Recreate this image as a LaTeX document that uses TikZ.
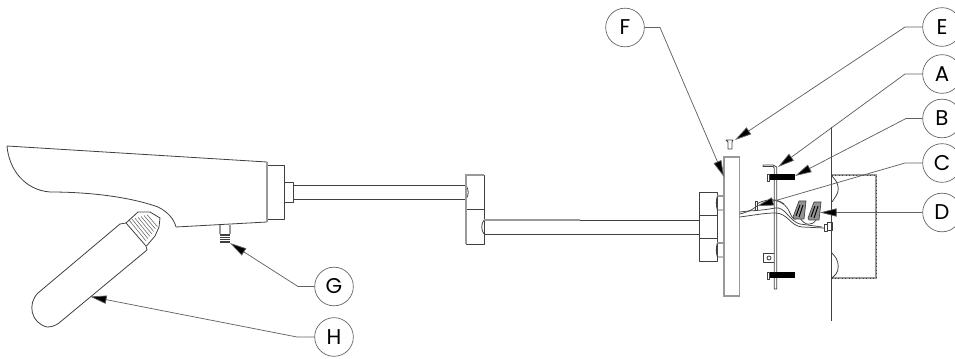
\documentclass[tikz,border=0pt]{standalone}
\usepackage{fontspec}
\setmainfont{Poppins}
\usetikzlibrary{arrows.meta}
\definecolor{ink}{gray}{0.25}
\definecolor{lead}{gray}{0.38}
\definecolor{soft}{gray}{0.6}
\tikzset{
  part/.style={draw=ink,line width=0.6pt,line join=round},
  softpart/.style={draw=soft,line width=0.85pt},
  callout/.style={circle,draw=lead,line width=0.5pt,minimum size=29pt,inner sep=0pt,font=\fontsize{16}{16}\selectfont,text=black},
  leader/.style={draw=lead,line width=0.55pt,-{Triangle[length=12.5pt,width=6.2pt,fill=black]}},
  wire/.style={draw=ink,line width=0.55pt},
  nutfill/.style={draw=ink,fill=gray!85,line width=0.5pt},
}
\begin{document}
\begin{tikzpicture}[x=0.75pt,y=-0.75pt]
\useasboundingbox (0,0) rectangle (955,359);
% Fixture body
\draw[part] (7,146) -- (267,162) -- (267,222) -- (176,227)
  .. controls (174,219) and (168,212) .. (158,207)
  .. controls (130,197) and (90,192) .. (50,192)
  .. controls (25,190) and (9,170) .. (7,146);
\draw[part] (267,165) -- (284.5,165) -- (284.5,219) -- (267,219);
\draw[part] (284.5,182) -- (293.5,182) -- (293.5,202) -- (284.5,202);
\draw[softpart] (267,162) -- (267,222);
% Upper pipe and elbow
\draw[part] (293.5,185.3) -- (466,185.3);
\draw[part] (293.5,199.3) -- (466,199.3);
\draw[part] (466,185.3) .. controls (469,190) and (469,195) .. (466,199.3);
\draw[part] (466,175) rectangle (484,244.3);
\draw[part] (466,209.3) -- (484,209.3);
\draw[softpart] (484,175) -- (466,175) -- (466,244.3);
% Lower pipe
\draw[part] (484,220) -- (699,220);
\draw[part] (484,234) -- (699,234);
\draw[part] (484,220) .. controls (481,224) and (481,230) .. (484,234);
\draw[softpart] (484,220) -- (580,220);
% Nuts
\draw[part] (699,192.3) rectangle (717.3,261.3);
\draw[part] (699,215) -- (717.3,215);
\draw[part] (699,238.3) -- (717.3,238.3);
\draw[softpart] (717.3,196) -- (724,196);
\draw[part] (717.3,196) .. controls (716,201) and (716,205) .. (717.3,210) -- (724,210);
\draw[softpart] (717.3,243) -- (724,243);
\draw[part] (717.3,243) .. controls (716,248) and (716,252) .. (717.3,257) -- (724,257);
% Plate
\draw[draw=soft,line width=0.8pt] (724,157) rectangle (739.7,296);
% Bracket
\draw[part] (763,166.5) -- (773,166.5) -- (774.3,168) -- (774.3,289) -- (776.7,289) -- (776.7,167) -- (773,165) -- (763,165) -- cycle;
\draw[part] (774.3,253) -- (763,253) -- (763,262) -- (774.3,262);
\draw[part] (769,258) circle (2);
% Screws
\draw[part] (767,174) rectangle (769.5,181);
\draw[part] (767,272) rectangle (769.5,279);
\fill[black] (769.5,174.5) rectangle (795,180);
\fill[black] (769.5,272.5) rectangle (795,278);
% Top screw E
\draw[part] (726,140) -- (733,140) -- (732,142) -- (732,149) -- (728,149) -- (728,142) -- cycle;
% Wall and box
\draw[part] (831.7,127) -- (831.7,320.7);
\draw[draw=soft,line width=1.3pt] (832,175) -- (876,175) -- (876,278) -- (832,278);
\draw[draw=ink,line width=0.6pt,dotted] (832,175) -- (876,175) -- (876,278) -- (832,278);
\draw[part] (832,176) -- (836,181) .. controls (839,186) and (839,192) .. (836,196) -- (832,202);
\draw[part] (832,253) -- (836,258) .. controls (839,263) and (839,270) .. (836,274) -- (832,278);
% Wires
\draw[wire] (739.7,212) .. controls (755,210) and (760,211) .. (775,208) .. controls (785,206) and (790,222) .. (800,224) -- (822,227);
\draw[wire] (739.7,217) .. controls (755,215) and (765,213) .. (775,213) .. controls (788,213) and (790,226) .. (802,227) -- (824,228);
\draw[wire] (757,204) .. controls (770,196) and (785,200) .. (790,213) .. controls (793,220) and (795,220) .. (797,218);
\draw[wire] (765,204) .. controls (768,199) and (776,198) .. (784,204);
\draw[wire] (800,218) .. controls (805,226) and (812,226) .. (816,220);
\draw[wire] (739.7,214) .. controls (748,212) and (752,210) .. (757,206);
% Wire nuts
\draw[nutfill] (799,201) -- (806,201) -- (804,219) -- (794,219) -- (793,217) -- cycle;
\draw[nutfill] (814,202) -- (821,202) -- (819,220) -- (809,220) -- (808,218) -- cycle;
\draw[black,line width=0.7pt] (800,205) -- (796,216) (803,205) -- (799,217) (815,206) -- (811,217) (818,206) -- (814,218);
% Wire connector
\draw[part] (824,224) rectangle (827,231);
\draw[part] (827,222.5) rectangle (832,230.5);
% Ground screw at C
\draw[part] (755,201) rectangle (757.5,210);
% Lamp
\draw[part] (120,224) -- (38,293)
  .. controls (27,304) and (31,323) .. (47,327)
  .. controls (51,327) and (55,326) .. (59,323) -- (147,250);
\draw[part] (120,224) -- (126,223) -- (146,246) -- (147,250);
\draw[part] (126,223) -- (138,212) -- (150,212) -- (160,218) -- (159,227) -- (155,236) -- (146.5,246);
\foreach \i in {0,...,6}
  \draw[draw=lead,line width=0.4pt] ({129+\i*3},{220-\i*0.9}) -- ({146+\i*1.9},{241-\i*2.4});
% Stud
\draw[softpart] (220,225) -- (220,234) (230,225) -- (230,234);
\fill[ink] (220,234) rectangle (230,243.5);
\foreach \yy in {236,238.2,240.4}
  \draw[white,line width=0.3pt] (220,\yy) -- (230,\yy);
% Callouts
\node[callout] (E) at (942,27) {E};
\node[callout] (A) at (942,74) {A};
\node[callout] (B) at (942,118.5) {B};
\node[callout] (C) at (942,163) {C};
\node[callout] (D) at (942,212.5) {D};
\node[callout] (F) at (625,27.5) {F};
\node[callout] (G) at (334,286.5) {G};
\node[callout] (H) at (334,337) {H};
% Bends and tips
\coordinate (Eb) at (905,27);    \coordinate (Et) at (735,140);
\coordinate (Ab) at (905,74);    \coordinate (At) at (778,167);
\coordinate (Bb) at (906,118.5); \coordinate (Bt) at (795,176);
\coordinate (Cb) at (905,163);   \coordinate (Ct) at (757,206);
\coordinate (Db) at (894,212.5); \coordinate (Dt) at (820,212.5);
\coordinate (Fb) at (660,27.5);  \coordinate (Ft) at (724,177);
\coordinate (Gb) at (298,286.5); \coordinate (Gt) at (230,243);
\coordinate (Hb) at (297,337);   \coordinate (Ht) at (90,296.5);
\foreach \n in {E,A,B,C,D}
  \draw[leader] (\n.west) -- (\n b) -- (\n t);
\draw[leader] (F.east) -- (Fb) -- (Ft);
\draw[leader] (G.west) -- (Gb) -- (Gt);
\draw[leader] (H.west) -- (Hb) -- (Ht);
\end{tikzpicture}
\end{document}
